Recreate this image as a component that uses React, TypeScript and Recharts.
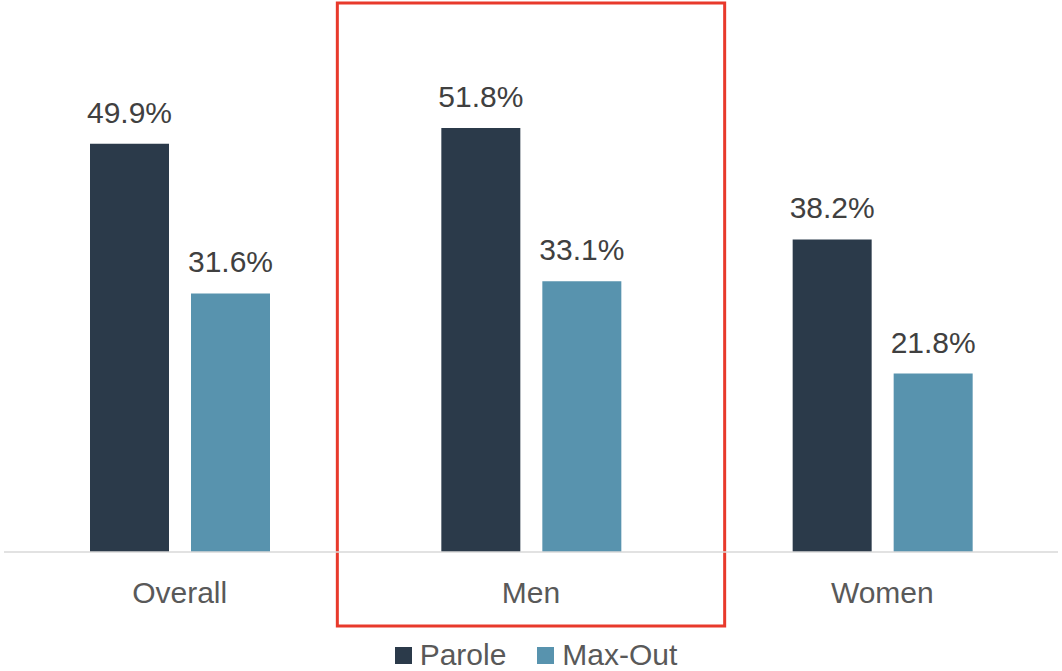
import React from 'react';
import { BarChart, Bar, XAxis, YAxis, LabelList, Legend, ReferenceArea } from 'recharts';

const categories = ['Overall', 'Men', 'Women'];
const paroleRates = [49.9, 51.8, 38.2];
const maxOutRates = [31.6, 33.1, 21.8];
const seriesNames = ['Parole', 'Max-Out'];
const highlighted = 'Men';

const data = categories.map((name, i) => ({
  name,
  parole: paroleRates[i],
  maxOut: maxOutRates[i],
}));

const FONT = '"Liberation Sans", Arial, sans-serif';
const PAROLE_COLOR = '#2b3a4a';
const MAXOUT_COLOR = '#5893ae';

const LegendContent = () => (
  <div
    style={{
      display: 'flex',
      justifyContent: 'center',
      alignItems: 'center',
      boxSizing: 'border-box',
      height: 40,
      paddingTop: 8,
      fontFamily: FONT,
      fontSize: 30,
      color: '#595959',
      paddingLeft: 10,
    }}
  >
    {seriesNames.map((n, i) => (
      <div key={n} style={{ display: 'flex', alignItems: 'center', marginLeft: i ? 31 : 0 }}>
        <span
          style={{
            display: 'inline-block',
            width: 17,
            height: 17,
            background: i ? MAXOUT_COLOR : PAROLE_COLOR,
            marginRight: 8,
          }}
        />
        <span>{n}</span>
      </div>
    ))}
  </div>
);

// box drawn around the highlighted category, wider than its band
const HighlightBox = (props: any) => {
  const { x, width } = props;
  return (
    <rect
      x={x - 18}
      y={3}
      width={width + 36}
      height={623}
      fill="none"
      stroke="#e8392b"
      strokeWidth={3}
    />
  );
};

export default function App() {
  return (
    <div style={{ position: 'absolute', left: 0, top: 0, background: '#fff' }}>
      <BarChart
        width={1062}
        height={671}
        data={data}
        margin={{ top: 61, right: 4, bottom: 0, left: 4 }}
        barGap={22}
      >
        <XAxis
          dataKey="name"
          axisLine={{ stroke: '#d9d9d9', strokeWidth: 1.5 }}
          tickLine={false}
          tickSize={0}
          tickMargin={30}
          height={79}
          tick={{ fontSize: 30, fill: '#595959', fontFamily: FONT }}
        />
        <YAxis hide domain={[0, 60]} />
        <ReferenceArea x1={highlighted} x2={highlighted} ifOverflow="visible" shape={HighlightBox} />
        <Legend verticalAlign="bottom" content={LegendContent} />
        <Bar dataKey="parole" name="Parole" fill={PAROLE_COLOR} barSize={79} isAnimationActive={false}>
          <LabelList
            dataKey="parole"
            position="top"
            offset={21}
            formatter={(v: any) => `${Number(v).toFixed(1)}%`}
            style={{ fontSize: 30, fill: '#404040', fontFamily: FONT }}
          />
        </Bar>
        <Bar dataKey="maxOut" name="Max-Out" fill={MAXOUT_COLOR} barSize={79} isAnimationActive={false}>
          <LabelList
            dataKey="maxOut"
            position="top"
            offset={21}
            formatter={(v: any) => `${Number(v).toFixed(1)}%`}
            style={{ fontSize: 30, fill: '#404040', fontFamily: FONT }}
          />
        </Bar>
      </BarChart>
    </div>
  );
}
